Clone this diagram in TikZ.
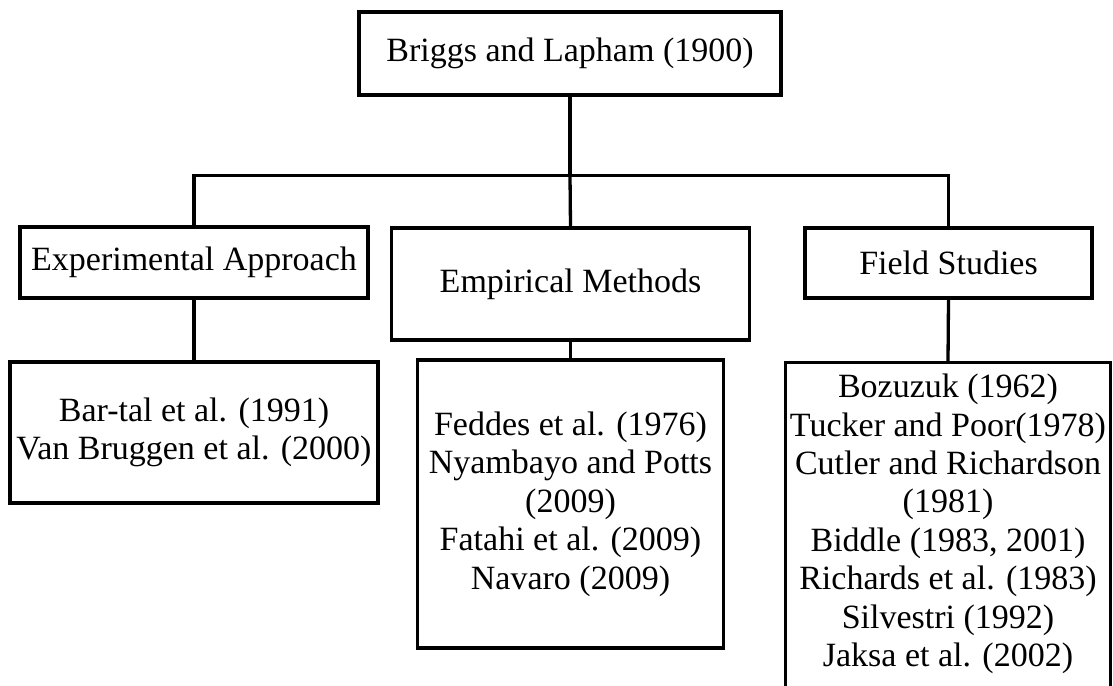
\documentclass[tikz,border=0pt]{standalone}
\usepackage{fontspec}
\setmainfont{Liberation Serif}
\begin{document}
\begin{tikzpicture}[x=1pt,y=-1pt,
  bx/.style={draw=black, line width=3.3pt, fill=white, inner sep=0pt, align=center,
    font=\fontsize{34}{38.5}\selectfont},
  txt/.style={inner sep=0pt, align=center, font=\fontsize{34}{38.4}\selectfont},
  ln/.style={draw=black, line width=3.3pt}]
\useasboundingbox (0,0) rectangle (1113,685);
\clip (0,0) rectangle (1113,685);
\fill[white] (0,0) rectangle (1113,685);
\coordinate (busy) at (0,175.5);
% level 0
\node[bx, minimum width=422pt, minimum height=83pt] (top) at (570,53.5) {Briggs and Lapham (1900)};
% level 1
\node[bx, minimum width=348pt, minimum height=71pt] (exp) at (194,262.5) {Experimental Approach};
\node[bx, minimum width=358pt, minimum height=112pt] (emp) at (570.5,284) {Empirical Methods};
\node[bx, minimum width=287pt, minimum height=70pt] (fld) at (948.5,263) {Field Studies};
% level 2
\node[bx, minimum width=368pt, minimum height=141pt] (b1) at (194,432.5) {Bar-tal et al. (1991)\\Van Bruggen et al. (2000)};
\node[bx, minimum width=306pt, minimum height=288pt] (b2) at (570.5,504) {Feddes et al. (1976)\\Nyambayo and Potts\\(2009)\\Fatahi et al. (2009)\\Navaro (2009)};
\node[bx, minimum width=325pt, minimum height=360pt, anchor=north] (b3) at (948,361) {};
\node[txt, anchor=north] (b3t) at ([yshift=-13pt]b3.north) {Bozuzuk (1962)\\Tucker and Poor(1978)\\Cutler and Richardson\\(1981)\\Biddle (1983, 2001)\\Richards et al. (1983)\\Silvestri (1992)\\Jaksa et al. (2002)};
% connectors
\draw[ln] (top.south) -- (top.south |- busy);
\draw[ln] (exp.north) -- (exp.north |- busy) -- (fld.north |- busy) -- (fld.north);
\draw[ln] (top.south |- busy) -- (emp.north);
\draw[ln] (exp.south) -- (b1.north);
\draw[ln] (emp.south) -- (b2.north);
\draw[ln] (fld.south) -- (b3.north);
\end{tikzpicture}
\end{document}
